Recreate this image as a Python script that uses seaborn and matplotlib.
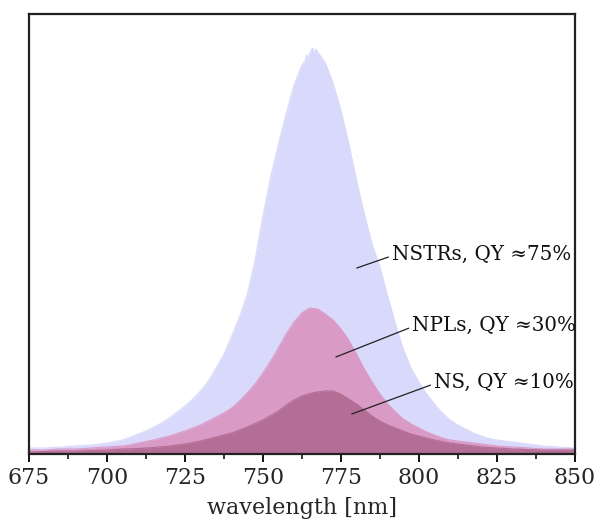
import numpy as np
import pandas as pd
import matplotlib
matplotlib.use("Agg")
import matplotlib.pyplot as plt
import seaborn as sns
from matplotlib.ticker import MultipleLocator

# ---- data (intensity, a.u.) ----
wl_nstr = [675, 680, 685, 690, 695, 700, 702.5, 705, 707.5, 710, 712.5, 715, 717.5,
           720, 722.5, 725, 727.5, 730, 732.5, 735, 737.5, 740, 742.5, 745, 747.5,
           750, 752.5, 755, 757.5, 760, 762.5, 763.5, 764, 764.5, 765, 765.5, 766,
           766.5, 767, 767.5, 768.5, 770, 772.5, 775, 777.5, 780, 782.5, 785,
           787.5, 790, 792.5, 795, 797.5, 800, 802.5, 805, 807.5, 810, 812.5, 815,
           817.5, 820, 822.5, 825, 827.5, 830, 835, 840, 845, 850]
int_nstr = [6, 6, 7, 8, 9, 11, 12.5, 14, 17, 20, 23, 27, 31,
            36, 42, 48, 55, 63, 73, 86, 100, 118, 137, 160, 194,
            238, 277, 310, 341, 369, 389, 393, 399, 396, 401, 404, 406,
            400, 405, 402, 398, 391, 371, 344, 311, 274, 240, 210,
            187, 158, 130, 105, 86, 72, 60, 50, 41, 34, 29, 25,
            21, 18, 15.5, 14, 13, 12, 10, 8, 7, 6]

wl_npl = [675, 680, 685, 690, 695, 700, 702.5, 705, 707.5, 710, 712.5, 715, 717.5,
          720, 722.5, 725, 727.5, 730, 732.5, 735, 737.5, 740, 742.5, 745, 747.5,
          750, 752.5, 755, 757.5, 760, 762.5, 765, 767.5, 770, 772.5, 775, 777.5,
          780, 782.5, 785, 787.5, 790, 792.5, 795, 797.5, 800, 802.5, 805, 807.5,
          810, 812.5, 815, 817.5, 820, 825, 830, 835, 840, 845, 850]
int_npl = [4, 4, 5, 5, 6, 7, 7.5, 8, 9, 11, 12.5, 14, 16,
           18, 20.5, 23, 26, 29, 33, 37, 41, 46, 53, 61, 70,
           81, 93, 106, 120, 132, 141, 146, 145, 140, 134, 125, 114,
           100, 85, 72, 60, 50, 42, 35, 30, 26, 22, 19, 16,
           14, 13, 12, 11, 10, 8, 7, 6, 5, 5, 5]

wl_ns = [675, 680, 685, 690, 695, 700, 705, 710, 715, 720, 722.5, 725, 727.5, 730,
         732.5, 735, 737.5, 740, 742.5, 745, 747.5, 750, 752.5, 755, 757.5, 760,
         762.5, 765, 767.5, 770, 772.5, 775, 777.5, 780, 782.5, 785, 787.5, 790,
         792.5, 795, 797.5, 800, 805, 810, 815, 820, 825, 830, 835, 840, 845, 850]
int_ns = [2, 2.5, 3, 3, 3.5, 4, 5, 5.5, 6.5, 8, 9, 10, 11.5, 13,
          15, 17, 19, 21, 24, 27, 30.5, 34, 38.5, 43, 49, 54,
          58, 60.5, 62, 63, 63, 60, 55, 50, 44, 38, 33, 29,
          26, 23, 20, 18, 14, 11, 9, 7, 6, 5, 4.5, 4, 4, 4]

labels = ["NSTRs, QY \u224875%", "NPLs, QY \u224830%", "NS, QY \u224810%"]
xticks = [675, 700, 725, 750, 775, 800, 825, 850]
xlabel = "wavelength [nm]"

colors = ["#d9d9fb", "#d99ac5", "#b36e96"]

sns.set_theme(style="white")
plt.rcParams["font.family"] = ["DejaVu Serif", "DejaVu Sans"]

fig = plt.figure(figsize=(5.95, 5.27), dpi=100)
ax = fig.add_axes([0.0487, 0.1385, 0.9173, 0.8349])

series = [(wl_nstr, int_nstr), (wl_npl, int_npl), (wl_ns, int_ns)]
for (wl, it), c in zip(series, colors):
    df = pd.DataFrame({"wl": wl, "I": it})
    ax.fill_between(df["wl"], 0, df["I"], color=c, linewidth=0, zorder=2)
    sns.lineplot(data=df, x="wl", y="I", ax=ax, color=c, linewidth=0.8, zorder=3)

ax.set_xlim(675, 850)
ax.set_ylim(0, 440)
ax.set_xticks(xticks)
ax.xaxis.set_minor_locator(MultipleLocator(12.5))
ax.set_yticks([])
ax.set_ylabel("")
ax.set_xlabel(xlabel, fontsize=16, labelpad=6)
ax.tick_params(axis="x", which="major", direction="out", length=6, width=1.3,
               labelsize=15.8, color="black", bottom=True, pad=3)
ax.tick_params(axis="x", which="minor", direction="out", length=3.5, width=1.1,
               color="black", bottom=True)
for s in ax.spines.values():
    s.set_color("#222222")
    s.set_linewidth(1.6)
    s.set_zorder(5)

# annotations (line from label to the filled area)
ann = [
    (labels[0], (780.1, 186), (791.3, 200)),
    (labels[1], (773.4, 97), (797.8, 129)),
    (labels[2], (778.5, 40), (804.8, 72)),
]
for txt, xy, xytext in ann:
    ax.annotate(txt, xy=xy, xytext=xytext, fontsize=14.3, color="#111111",
                ha="left", va="center",
                arrowprops=dict(arrowstyle="-", color="#222222", lw=0.9,
                                shrinkA=0, shrinkB=0,
                                relpos=(0, 0.4)),
                zorder=6)

fig.savefig("out.png", dpi=100)
